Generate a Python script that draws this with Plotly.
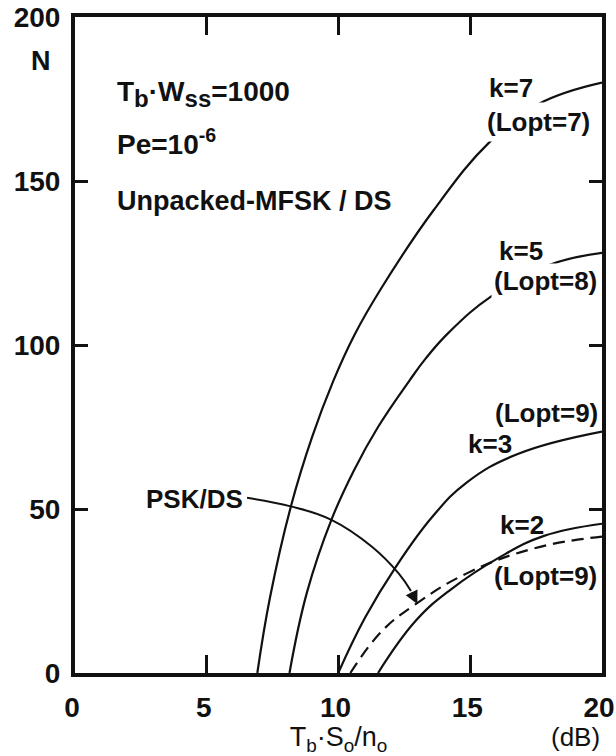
import plotly.graph_objects as go

# ---- data ----
k7_x = [6.92, 7.4, 8.2, 9.0, 9.8, 10.6, 11.6, 13.6, 15.75, 17.6, 20.0]
k7_n = [0, 23, 51, 72, 89, 103, 117, 141, 162, 173.5, 180]

k5_x = [8.14, 8.8, 9.73, 10.6, 11.5, 12.68, 13.32, 14.21, 15.81, 17.99, 20.0]
k5_n = [0, 24.5, 46.7, 62, 75, 89, 96, 104, 114.9, 124.4, 128.1]

k3_x = [9.99, 11.01, 12.17, 13.57, 14.85, 16.78, 20.0]
k3_n = [0, 16.9, 32.3, 47.7, 58, 66.7, 73.6]

k2_x = [11.5, 12.93, 14.22, 16.14, 17.8, 20.0]
k2_n = [0, 15.9, 25.2, 35.4, 41.8, 45.5]

psk_x = [10.45, 11.65, 12.93, 14.85, 17.42, 20.0]
psk_n = [0, 12.8, 21, 30.3, 38, 41.6]

arrow_x = [6.53, 8.19, 9.73, 11.27, 12.29, 12.75]
arrow_n = [53.4, 50.8, 46.7, 38.5, 30.3, 25.0]
arrow_tip = (12.99, 21.0)

x_ticks = [0, 5, 10, 15, 20]
y_ticks = [0, 50, 100, 150, 200]

FONT = "Liberation Sans"
BLK = "#111111"

fig = go.Figure()
line_style = dict(color=BLK, width=2.2, shape="spline", smoothing=1.2)
for xs, ns in [(k7_x, k7_n), (k5_x, k5_n), (k3_x, k3_n), (k2_x, k2_n)]:
    fig.add_trace(go.Scatter(x=xs, y=ns, mode="lines", line=line_style,
                             showlegend=False, hoverinfo="skip"))
fig.add_trace(go.Scatter(x=psk_x, y=psk_n, mode="lines",
                         line=dict(color=BLK, width=2.2, dash="12px,7px",
                                   shape="spline", smoothing=1.2),
                         showlegend=False, hoverinfo="skip"))
fig.add_trace(go.Scatter(x=arrow_x, y=arrow_n, mode="lines",
                         line=dict(color=BLK, width=2, shape="spline", smoothing=1.2),
                         showlegend=False, hoverinfo="skip"))

ann = []
def lab(text, x, y, size=26, bg=None, xanchor="left", pad=3, xref="x", yref="y", weight="bold"):
    d = dict(text=text, x=x, y=y, xref=xref, yref=yref, showarrow=False,
             xanchor=xanchor, yanchor="middle",
             font=dict(family=FONT, size=size, color=BLK, weight=weight))
    if bg:
        d.update(bgcolor=bg, borderpad=pad)
    ann.append(d)

lab("k=7", 15.62, 178.3)
lab("(Lopt=7)", 15.45, 168.1, bg="white", pad=4)
lab("k=5", 16.0, 128.6)
lab("(Lopt=8)", 15.78, 119.4, bg="white", pad=2)
lab("(Lopt=9)", 15.88, 79.4)
lab("k=3", 14.85, 69.8)
lab("k=2", 16.07, 45.2)
lab("(Lopt=9)", 15.82, 29.6)
lab("PSK/DS", 6.45, 53.0, xanchor="right")

lab('T<sub><span style="font-size:24px">b</span></sub>·W<sub><span style="font-size:24px">ss</span></sub>=1000',
    1.5, 176.5, size=28)
lab("Pe=10<sup>-6</sup>", 1.5, 162.0, size=28)
lab("Unpacked-MFSK / DS", 1.5, 144.0, size=27)
lab("N", -0.0645, 186.6, xanchor="center", xref="paper", size=27)
lab("(dB)", 1.0, -0.097, xanchor="right", xref="paper", yref="paper", size=26, weight="normal")

ann.append(dict(x=arrow_tip[0], y=arrow_tip[1], ax=arrow_x[-1], ay=arrow_n[-1],
                xref="x", yref="y", axref="x", ayref="y", text="",
                showarrow=True, arrowhead=2, arrowsize=1.3, arrowwidth=2,
                arrowcolor=BLK))

fig.update_layout(
    width=616, height=756,
    margin=dict(l=75, r=14, t=17, b=83),
    paper_bgcolor="white", plot_bgcolor="white",
    annotations=ann,
    xaxis=dict(range=[0, 20], tickvals=x_ticks, ticktext=[str(v) for v in x_ticks],
               ticks="inside", ticklen=18, tickwidth=2.5, tickcolor=BLK,
               showline=True, linewidth=4, linecolor=BLK, mirror="ticks",
               showgrid=False, zeroline=False, ticklabelstandoff=6, ticklabelshift=-3,
               automargin=False, ticklabeloverflow="allow",
               tickfont=dict(family=FONT, size=28, color=BLK, weight="bold"),
               title=dict(text="T<sub>b</sub>·S<sub>o</sub>/n<sub>o</sub>",
                          font=dict(family=FONT, size=27, color=BLK), standoff=0)),
    yaxis=dict(range=[0, 200], tickvals=y_ticks, ticktext=[str(v) for v in y_ticks],
               ticks="inside", ticklen=13, tickwidth=2.5, tickcolor=BLK,
               showline=True, linewidth=4, linecolor=BLK, mirror="ticks",
               showgrid=False, zeroline=False, ticklabelstandoff=5,
               automargin=False, ticklabeloverflow="allow",
               tickfont=dict(family=FONT, size=28, color=BLK, weight="bold")),
)

fig.write_html("out.html")
